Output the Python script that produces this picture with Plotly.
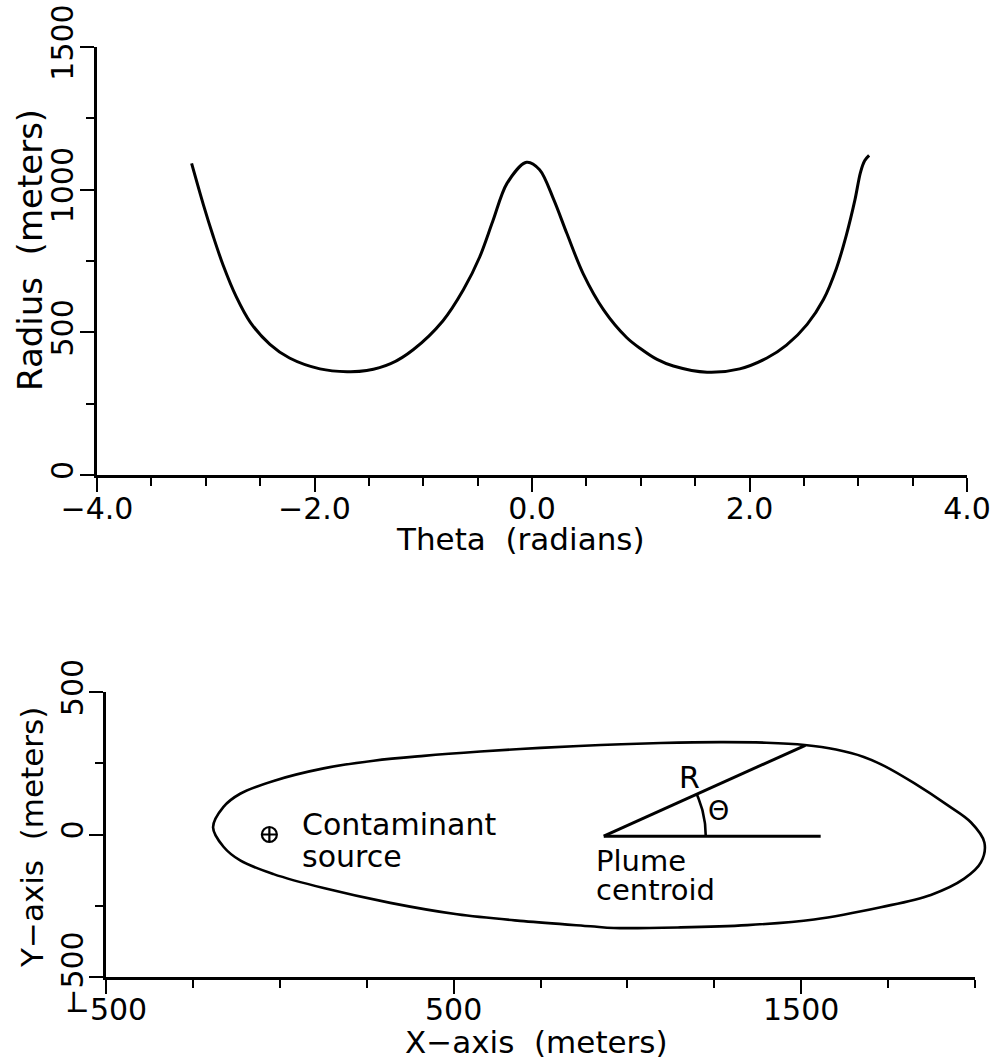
import numpy as np
import plotly.graph_objects as go

# ---------------- data: top panel (radius of plume boundary vs. angle) ----------------
theta = [-3.13, -3.02, -2.93, -2.84, -2.72, -2.59, -2.41, -2.23, -1.95, -1.70, -1.52, -1.30,
         -1.09, -0.82, -0.63, -0.48, -0.36, -0.23, -0.05, 0.07, 0.20, 0.32, 0.47, 0.66,
         0.87, 0.99, 1.15, 1.30, 1.61, 1.91, 2.16, 2.34, 2.53, 2.68, 2.80, 2.89, 2.97,
         3.02, 3.06, 3.10]
radius = [1092, 945, 835, 735, 625, 535, 458, 410, 372, 362, 366, 390,
          440, 540, 650, 765, 890, 1022, 1096, 1070, 965, 847, 706, 578,
          482, 445, 405, 382, 360, 372, 410, 455, 528, 615, 725, 840, 965,
          1060, 1102, 1120]

# ---------------- data: bottom panel (plume outline in x-y, meters) ----------------
plume_x = [961, 894, 702, 510, 318, 126, -18, -114, -162, -192, -162, -114, -18, 126, 270,
           414, 577, 750, 923, 1096, 1268, 1400, 1510, 1600, 1680, 1740, 1825, 1921, 1988,
           2027, 2017, 1969, 1873, 1729, 1537, 1345, 1153, 961]
plume_y = [-328, -322, -304, -280, -240, -188, -139, -91, -43, 25, 97, 143, 188, 232, 259,
           276, 291, 304, 314, 321, 324, 322, 314, 298, 272, 240, 180, 103, 43,
           -28, -98, -155, -212, -255, -298, -318, -326, -328]

source_x = [-30]
source_y = [0]
centroid_x = [932]
centroid_y = [-6]
r_end_x = [1512]
r_end_y = [313]
baseline_end_x = [1556]

# ---------------- layout geometry (pixels in a 991 x 1062 page) ----------------
W, H = 991, 1062
def fx(px):
    return px / W
def fy(py):
    return 1 - py / H

FONT = "DejaVu Sans"
BLACK = "black"

fig = go.Figure()

# top curve
fig.add_trace(go.Scatter(x=theta, y=radius, mode="lines",
                         line=dict(color=BLACK, width=3, shape="spline", smoothing=0.9),
                         xaxis="x", yaxis="y", showlegend=False, hoverinfo="skip"))

# empty trace to host visible bottom axes
fig.add_trace(go.Scatter(x=[], y=[], xaxis="x2", yaxis="y2", showlegend=False))

# plume outline on an invisible overlay axis with the same scale (so it can overhang the axis end)
fig.add_trace(go.Scatter(x=plume_x, y=plume_y, mode="lines",
                         line=dict(color=BLACK, width=2.6, shape="spline", smoothing=1.0),
                         xaxis="x3", yaxis="y3", showlegend=False, hoverinfo="skip"))

# R line
fig.add_trace(go.Scatter(x=[centroid_x[0], r_end_x[0]], y=[centroid_y[0], r_end_y[0]],
                         mode="lines", line=dict(color=BLACK, width=3),
                         xaxis="x3", yaxis="y3", showlegend=False, hoverinfo="skip"))
# horizontal reference line
fig.add_trace(go.Scatter(x=[centroid_x[0], baseline_end_x[0]], y=[centroid_y[0], centroid_y[0]],
                         mode="lines", line=dict(color=BLACK, width=3),
                         xaxis="x3", yaxis="y3", showlegend=False, hoverinfo="skip"))

# angle arc (radius ~102 px, drawn in data units using the axis scales)
x_scale = (975 - 106) / 2500.0   # px per meter
y_scale = (977 - 692) / 1000.0
ang_end = np.arctan2((r_end_y[0] - centroid_y[0]) * y_scale, (r_end_x[0] - centroid_x[0]) * x_scale)
a = np.linspace(0, ang_end, 30)
arc_px = 102
fig.add_trace(go.Scatter(x=centroid_x[0] + arc_px * np.cos(a) / x_scale,
                         y=centroid_y[0] + arc_px * np.sin(a) / y_scale,
                         mode="lines", line=dict(color=BLACK, width=2.6),
                         xaxis="x3", yaxis="y3", showlegend=False, hoverinfo="skip"))

# contaminant source marker
fig.add_trace(go.Scatter(x=source_x, y=source_y, mode="markers",
                         marker=dict(symbol="circle-cross-open", size=15, color=BLACK,
                                     line=dict(width=2.2, color=BLACK)),
                         xaxis="x3", yaxis="y3", showlegend=False, hoverinfo="skip"))

tickfont = dict(family=FONT, size=30, color=BLACK)
common = dict(showline=True, linecolor=BLACK, linewidth=2.6, ticks="outside",
              tickcolor=BLACK, tickwidth=2.4, showgrid=False, zeroline=False,
              tickfont=tickfont, automargin=False, fixedrange=True)
minor_style = dict(ticklen=8, tickwidth=2.4, tickcolor=BLACK, ticks="outside")

fig.update_layout(
    width=W, height=H,
    margin=dict(l=0, r=0, t=0, b=0),
    paper_bgcolor="white", plot_bgcolor="rgba(0,0,0,0)",
    showlegend=False,
    xaxis=dict(domain=[fx(97), fx(967)], anchor="y", range=[-4, 4],
               tick0=-4, dtick=2, tickformat=".1f", ticklen=14, ticklabelstandoff=-9,
               minor=dict(dtick=0.5, tick0=-4, **minor_style),
               **common),
    yaxis=dict(domain=[fy(475), fy(47)], anchor="x", range=[0, 1500],
               tick0=0, dtick=500, ticklen=14, tickangle=-90, ticklabelstandoff=-5,
               minor=dict(dtick=250, tick0=0, **minor_style),
               **common),
    xaxis2=dict(domain=[fx(106), fx(975)], anchor="y2", range=[-500, 2000],
                tick0=-500, dtick=1000, ticklen=14, ticklabelstandoff=-10,
                minor=dict(dtick=250, tick0=-500, **minor_style),
                **common),
    yaxis2=dict(domain=[fy(977), fy(692)], anchor="x2", range=[-500, 500],
                tick0=-500, dtick=500, ticklen=14, tickangle=-90, ticklabelstandoff=-6,
                minor=dict(dtick=250, tick0=-500, **minor_style),
                **common),
    xaxis3=dict(domain=[fx(106), 1.0], anchor="y3",
                range=[-500, -500 + (W - 106) / x_scale], visible=False, fixedrange=True),
    yaxis3=dict(domain=[fy(977), fy(692)], anchor="x3", range=[-500, 500],
                visible=False, fixedrange=True),
)

ann_font = dict(family=FONT, size=30, color=BLACK)
annotations = [
    dict(text="Radius  (meters)", x=fx(30), y=fy(250), xref="paper", yref="paper",
         textangle=-90, showarrow=False, font=dict(family=FONT, size=34, color=BLACK),
         xanchor="center", yanchor="middle"),
    dict(text="Theta  (radians)", x=fx(520), y=fy(539), xref="paper", yref="paper",
         showarrow=False, font=dict(family=FONT, size=31, color=BLACK),
         xanchor="center", yanchor="middle"),
    dict(text="Y\u2212axis  (meters)", x=fx(32), y=fy(838), xref="paper", yref="paper",
         textangle=-90, showarrow=False, font=dict(family=FONT, size=31, color=BLACK),
         xanchor="center", yanchor="middle"),
    dict(text="X\u2212axis  (meters)", x=fx(536), y=fy(1042), xref="paper", yref="paper",
         showarrow=False, font=dict(family=FONT, size=31, color=BLACK),
         xanchor="center", yanchor="middle"),
    dict(text="Contaminant", x=59, y=35, xref="x3", yref="y3", showarrow=False,
         font=ann_font, xanchor="left", yanchor="middle"),
    dict(text="source", x=59, y=-78, xref="x3", yref="y3", showarrow=False,
         font=ann_font, xanchor="left", yanchor="middle"),
    dict(text="Plume", x=903, y=-93, xref="x3", yref="y3", showarrow=False,
         font=dict(family=FONT, size=29, color=BLACK), xanchor="left", yanchor="middle"),
    dict(text="centroid", x=903, y=-196, xref="x3", yref="y3", showarrow=False,
         font=dict(family=FONT, size=29, color=BLACK), xanchor="left", yanchor="middle"),
    dict(text="R", x=1179, y=200, xref="x3", yref="y3", showarrow=False,
         font=ann_font, xanchor="center", yanchor="middle"),
    dict(text="\u0398", x=1262, y=85, xref="x3", yref="y3", showarrow=False,
         font=dict(family=FONT, size=27, color=BLACK), xanchor="center", yanchor="middle"),
]
fig.update_layout(annotations=annotations)

fig.write_html("out.html", config={"displayModeBar": False},
               post_script="document.body.style.margin='0px';")
